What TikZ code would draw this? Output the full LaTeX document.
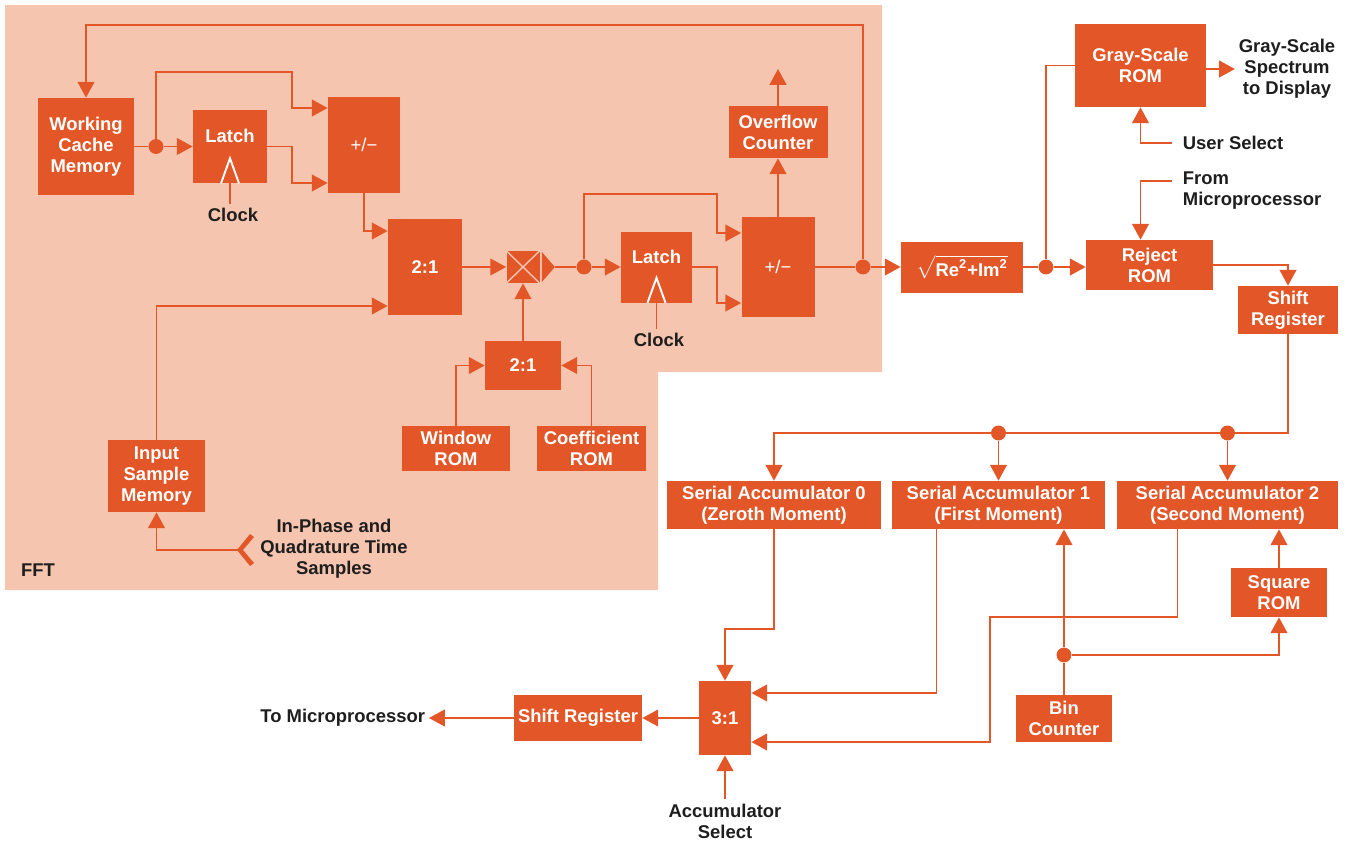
\documentclass[tikz,border=0pt]{standalone}
\usepackage{fontspec}
\setmainfont{Liberation Sans}
\usepackage{amsmath}
\usetikzlibrary{arrows.meta}

\definecolor{boxred}{RGB}{226,86,40}
\definecolor{fftpink}{RGB}{246,197,176}
\definecolor{labelblack}{RGB}{30,30,30}

\tikzset{
  blk/.style={fill=boxred, text=white, font=\bfseries\fontsize{10.5}{12}\selectfont, align=center, inner sep=0pt},
  sz/.style 2 args={minimum width=#1*0.02cm, minimum height=#2*0.02cm},
  latchbox/.style={blk, text height=7.5pt, text depth=12pt},
  wire/.style={draw=boxred, line width=1.1pt},
  arr/.style={wire, -{Triangle[length=9pt,width=9.5pt]}},
  dot/.style={circle, fill=boxred, inner sep=0pt, minimum size=8.5pt},
  lbl/.style={text=labelblack, font=\bfseries\fontsize{10.5}{12}\selectfont, align=center, inner sep=2pt},
}

\begin{document}
\begin{tikzpicture}[x=0.02cm, y=-0.02cm]
    \useasboundingbox (0,0) rectangle (1346,846);

    % FFT area
    \fill[fftpink] (5,5) -- (882,5) -- (882,372) -- (658,372) -- (658,590) -- (5,590) -- cycle;
    \node[lbl] (fft) at (38,570) {FFT};

    % FFT blocks
    \node[blk, sz={96}{97}] (wcm) at (86,146.5) {Working\\Cache\\Memory};
    \node[latchbox, sz={74}{73}] (latchA) at (230,146.5) {Latch};
    \node[blk, sz={72}{96}, font=\fontsize{10.5}{12}\selectfont] (addA) at (364,145) {+/−};
    \node[blk, sz={74}{96}] (muxA) at (425,267) {2:1};
    \node[blk, sz={33}{32}] (mult) at (523,267) {};
    \node[latchbox, sz={71}{71}] (latchB) at (656.5,267) {Latch};
    \node[blk, sz={73}{100}, font=\fontsize{10.5}{12}\selectfont] (addB) at (778,267) {+/−};
    \node[blk, sz={99}{52}] (ovf) at (778,132) {Overflow\\Counter};
    \node[blk, sz={76}{49}] (muxB) at (523,365.5) {2:1};
    \node[blk, sz={108}{45}] (win) at (456,448.5) {Window\\ROM};
    \node[blk, sz={109}{45}] (coef) at (591.5,448.5) {Coefficient\\ROM};
    \node[blk, sz={97}{72}] (ism) at (156.5,476) {Input\\Sample\\Memory};

    % multiplier cross and output
    \draw[fftpink, line width=0.8pt] (mult.north west) -- (mult.south east) (mult.north east) -- (mult.south west);
    \fill[boxred] ([shift={(2,-15)}]mult.east) -- ([shift={(15,0)}]mult.east) -- ([shift={(2,15)}]mult.east) -- cycle;

    % clock inputs
    \draw[white, line width=1.1pt] ([shift={(-9,0)}]latchA.south) -- ++(9,-25) -- ++(9,25);
    \draw[white, line width=1.1pt] ([shift={(-9,0)}]latchB.south) -- ++(9,-25) -- ++(9,25);
    \node[lbl] (clkA) at (233,215) {Clock};
    \node[lbl] (clkB) at (659,340) {Clock};
    \draw[wire] (latchA.south |- clkA.north) -- (latchA.south);
    \draw[wire] (latchB.south |- clkB.north) -- (latchB.south);

    % input samples
    \coordinate (iqin) at (238,550);
    \fill[boxred] (237,550) -- (250,534) -- (254,537) -- (243,550) -- (254,563) -- (250,566) -- cycle;
    \node[lbl] (iqlbl) at (334,549) {In-Phase and\\Quadrature Time\\Samples};
    \draw[arr] (iqin) -| (ism.south);

    % dots
    \node[dot] (dwcm) at (156,146.5) {};
    \node[dot] (dmul) at (584,267) {};
    \node[dot] (dadd) at (863,267) {};
    \node[dot] (drss) at (1046,267) {};
    \node[dot] (dacc1) at (998.5,433) {};
    \node[dot] (dacc2) at (1227.5,433) {};
    \node[dot] (dbin) at (1064,655) {};

    % FFT paths
    \draw[arr] (dadd) |- (86,25) -- (wcm.north);
    \draw[wire] (wcm.east) -- (dwcm);
    \draw[arr] (dwcm) -- (latchA.west);
    \draw[arr] (dwcm) |- (292,72) |- ([shift={(0,-37)}]addA.west);
    \draw[arr] (latchA.east) -| (292,183) -- ([shift={(0,38)}]addA.west);
    \draw[arr] (addA.south) |- ([shift={(0,-36)}]muxA.west);
    \draw[arr] (ism.north) |- ([shift={(0,39)}]muxA.west);
    \draw[arr] (muxA.east) -- (mult.west);
    \draw[wire] ([shift={(15,0)}]mult.east) -- (dmul);
    \draw[arr] (dmul) -- (latchB.west);
    \draw[arr] (dmul) |- (717,194) |- ([shift={(0,-34)}]addB.west);
    \draw[arr] (latchB.east) -| (717,303) -- ([shift={(0,36)}]addB.west);
    \draw[arr] (addB.north) -- (ovf.south);
    \coordinate (ovfout) at (778,69);
    \draw[arr] (ovf.north) -- (ovfout);
    \draw[arr] (muxB.north) -- (mult.south);
    \draw[arr] (win.north) |- (muxB.west);
    \draw[arr] (coef.north) |- (muxB.east);

    % magnitude and display
    \node[blk, sz={122}{51}] (rss) at (962,267) {$\sqrt{\text{Re}^{\text{2}}\text{+Im}^{\text{2}}}$};
    \node[blk, sz={131}{83}] (gray) at (1140.5,65.5) {Gray-Scale\\ROM};
    \node[blk, sz={127}{50}] (rej) at (1149.5,265) {Reject\\ROM};
    \node[blk, sz={100}{48}] (shiftA) at (1288,310) {Shift\\Register};
    \node[lbl] (disp) at (1287,69) {Gray-Scale\\Spectrum\\to Display};
    \node[lbl, anchor=west, inner xsep=6pt] (usel) at (1172,143) {User Select};
    \node[lbl, anchor=west, align=left, inner xsep=6pt] (fromup) at (1172,191) {From\\Microprocessor};

    \draw[wire] (addB.east) -- (dadd);
    \draw[arr] (dadd) -- (rss.west);
    \draw[wire] (rss.east) -- (drss);
    \draw[arr] (drss) -- (drss -| rej.west);
    \draw[wire] (drss) |- (gray.west);
    \draw[arr] (gray.east |- disp) -- (disp);
    \draw[arr] (usel.west) -| (gray.south);
    \draw[arr] ([shift={(0,-10)}]fromup.west) -| (gray.south |- rej.north);
    \draw[arr] (rej.east) -| (shiftA.north);

    % moment accumulators
    \node[blk, sz={214}{48}] (sa0) at (774,505) {Serial Accumulator 0\\(Zeroth Moment)};
    \node[blk, sz={213}{48}] (sa1) at (998.5,505) {Serial Accumulator 1\\(First Moment)};
    \node[blk, sz={221}{48}] (sa2) at (1227.5,505) {Serial Accumulator 2\\(Second Moment)};
    \node[blk, sz={96}{49}] (sq) at (1279,592.5) {Square\\ROM};
    \node[blk, sz={96}{47}] (bin) at (1064,718.5) {Bin\\Counter};
    \node[blk, sz={52}{74}] (mux3) at (725,718) {3:1};
    \node[blk, sz={128}{46}] (shiftB) at (578,718) {Shift Register};
    \node[lbl, anchor=east] (tomp) at (429,718) {To Microprocessor};
    \node[lbl, inner sep=1pt] (accs) at (725,821) {Accumulator\\Select};

    \draw[wire] (shiftA.south) |- (dacc2);
    \draw[wire] (dacc2) -- (dacc1);
    \draw[arr] (dacc1) -| (sa0.north);
    \draw[arr] (dacc1) -- (sa1.north);
    \draw[arr] (dacc2) -- (sa2.north);
    \draw[arr] (sa0.south) -- ++(0,100) -| (mux3.north);
    \draw[arr] ([shift={(-62,0)}]sa1.south) |- ([shift={(0,-25)}]mux3.east);
    \draw[arr] ([shift={(-50,0)}]sa2.south) |- (990,617) |- ([shift={(0,24)}]mux3.east);
    \draw[wire] (bin.north) -- (dbin);
    \draw[arr] (dbin) -- (dbin |- sa1.south);
    \draw[arr] (dbin) -| (sq.south);
    \draw[arr] (sq.north) -- (sq.north |- sa2.south);
    \draw[arr] (mux3.west) -- (shiftB.east);
    \draw[arr] (shiftB.west) -- (tomp.east);
    \draw[arr] ([shift={(0,-3)}]accs.north) -- (mux3.south);
\end{tikzpicture}
\end{document}
